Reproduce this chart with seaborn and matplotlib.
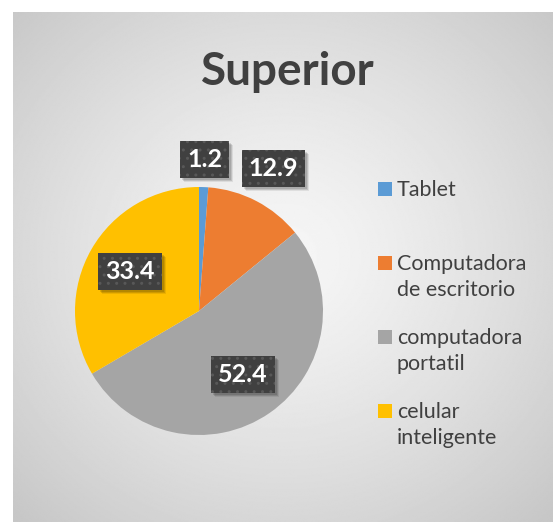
import numpy as np
import matplotlib
matplotlib.use("Agg")
import matplotlib.pyplot as plt
from matplotlib.patches import Rectangle
from matplotlib.transforms import IdentityTransform
import seaborn as sns

# ---- data ----
categories = ["Tablet", "Computadora\nde escritorio", "computadora\nportatil", "celular\ninteligente"]
values = [1.2, 12.9, 52.4, 33.4]
title = "Superior"
colors_hex = ["#5B9BD5", "#ED7D31", "#A5A5A5", "#FFC000"]

sns.set_theme(style="white")
plt.rcParams["font.family"] = ["Lato", "DejaVu Sans"]
palette = sns.color_palette(colors_hex)

W, H = 553, 522
fig = plt.figure(figsize=(W / 100, H / 100), dpi=100)
fig.patch.set_facecolor("white")

# ---- radial gradient chart-area background ----
bg = fig.add_axes([13 / W, 0, 1 - 13 / W, 1 - 12 / H])
yy, xx = np.mgrid[0:1:400j, 0:1:400j]
d = np.sqrt(((xx - 0.5) / 0.5) ** 2 + ((yy - 0.48) / 0.5) ** 2) / np.sqrt(2)
d = np.clip(d, 0, 1)
c_center, c_edge = 0.965, 0.78
img = c_center - (c_center - c_edge) * d ** 1.3
bg.imshow(img, cmap="gray", vmin=0, vmax=1, extent=[0, 1, 0, 1], aspect="auto",
          interpolation="bilinear")
bg.set_axis_off()

# ---- title ----
fig.text(288 / W, 1 - 85 / H, title, ha="center", va="baseline", fontsize=33,
         fontweight="bold", color="#404040")

# ---- pie ----
cx, cy, r = 199, 311, 124
ax = fig.add_axes([(cx - r) / W, 1 - (cy + r) / H, 2 * r / W, 2 * r / H])
wedges, _ = ax.pie(values, colors=palette, startangle=90, counterclock=False,
                   radius=1, wedgeprops=dict(linewidth=0))
ax.set_xlim(-1, 1)
ax.set_ylim(-1, 1)
ax.set_aspect("equal")
ax.set_axis_off()

label_dist = [1.22, 1.30, 0.62, 0.64]
labels = []
for w, v, dist in zip(wedges, values, label_dist):
    ang = np.deg2rad((w.theta1 + w.theta2) / 2)
    x, y = dist * np.cos(ang), dist * np.sin(ang)
    t = ax.text(x, y, f"{v:.1f}", ha="center", va="center", fontsize=18,
                fontweight="bold", color="white", zorder=5,
                bbox=dict(boxstyle="square,pad=0.28", fc="#404040", ec="#585858",
                          lw=0, hatch=".."))
    labels.append(t)

# soft drop shadows behind label boxes (drawn above the pie)
fig.canvas.draw()
for t in labels:
    bb = t.get_bbox_patch().get_window_extent()
    for k, a in ((4, 0.08), (3, 0.12), (2, 0.12)):
        ax.add_patch(Rectangle((bb.x0 + k, bb.y0 - k), bb.width, bb.height,
                               transform=IdentityTransform(), facecolor=(0, 0, 0, a),
                               edgecolor="none", zorder=4, clip_on=False))

# ---- legend (Excel style: marker at first line) ----
leg_x, leg_y0, leg_step, line_h, sq = 378, 189, 74, 26.5, 14
for i, (lab, col) in enumerate(zip(categories, palette)):
    yc = leg_y0 + leg_step * i
    fig.patches.append(Rectangle((leg_x / W, 1 - (yc + sq / 2) / H), sq / W, sq / H,
                                 transform=fig.transFigure, facecolor=col,
                                 edgecolor="none", figure=fig))
    for j, line in enumerate(lab.split("\n")):
        fig.text((leg_x + sq + 5) / W, 1 - (yc + 7 + j * line_h) / H, line,
                 ha="left", va="baseline", fontsize=15.5, color="#404040")

fig.savefig("out.png", dpi=100)
